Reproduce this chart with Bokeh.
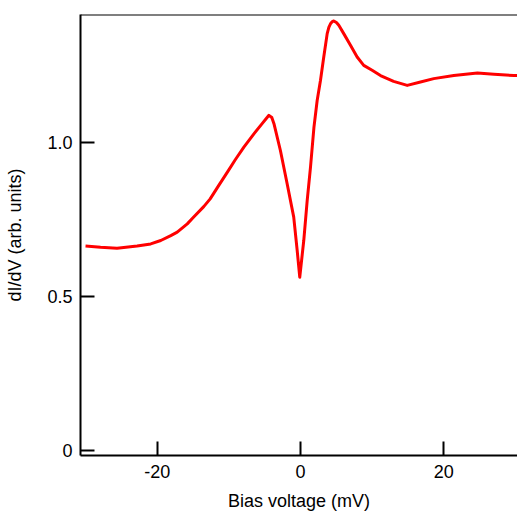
from bokeh.plotting import figure
from bokeh.models import Range1d, FixedTicker, CustomJSTickFormatter, Span
from bokeh.embed import file_html
from bokeh.resources import INLINE

# Data (bias in mV, dI/dV in arb. units)
bias = [-30.0, -27.9, -25.6, -22.8, -20.9, -19.5, -18.1, -17.2, -15.8, -14.9,
        -13.5, -12.6, -11.4, -10.2, -9.1, -7.9, -6.5, -5.35, -4.8, -4.4, -4.0, -3.7,
        -2.8, -1.86, -0.94, -0.46, -0.1, 0.46, 0.94, 1.40, 1.88, 2.33,
        2.79, 3.25, 3.73, 3.96, 4.19, 4.45, 4.65, 5.02, 5.35, 6.04, 6.98, 7.91, 8.83,
        10.0, 11.17, 13.0, 14.9, 16.75, 18.6, 21.4, 24.7, 27.0, 29.8, 30.3]
didv = [0.663, 0.659, 0.656, 0.663, 0.670, 0.681, 0.697, 0.708, 0.735, 0.757,
        0.791, 0.816, 0.860, 0.903, 0.943, 0.984, 1.027, 1.060, 1.076, 1.087, 1.080, 1.060,
        0.973, 0.865, 0.757, 0.649, 0.562, 0.681, 0.811, 0.919, 1.048, 1.135,
        1.200, 1.276, 1.352, 1.372, 1.384, 1.391, 1.393, 1.388, 1.379, 1.352, 1.314, 1.276, 1.249,
        1.233, 1.216, 1.197, 1.184, 1.195, 1.206, 1.216, 1.224, 1.220, 1.216, 1.216]

x_ticks = [-20, 0, 20]
y_ticks = [0, 0.5, 1.0]

X0, X1 = -30.70, 30.29
Y0, Y1 = -0.0162, 1.414

FONT = "Liberation Sans"

p = figure(width=517, height=516, output_backend="svg", toolbar_location=None,
           x_range=Range1d(X0, X1), y_range=Range1d(Y0, Y1),
           min_border_left=80, min_border_right=0, min_border_top=14, min_border_bottom=61)
p.outline_line_color = None
p.grid.visible = False
p.background_fill_color = "white"
p.border_fill_color = "white"

p.line(bias, didv, line_color="#ff0000", line_width=3, line_join="round")

for ax in (p.xaxis[0], p.yaxis[0]):
    ax.axis_line_width = 2
    ax.axis_line_color = "black"
    ax.major_tick_line_width = 2
    ax.major_tick_line_color = "black"
    ax.major_tick_in = 14
    ax.major_tick_out = 0
    ax.minor_tick_line_color = None
    ax.major_label_text_font = FONT
    ax.major_label_text_font_size = "18px"
    ax.major_label_text_color = "black"
    ax.axis_label_text_font = FONT
    ax.axis_label_text_font_size = "18px"
    ax.axis_label_text_font_style = "normal"
    ax.axis_label_text_color = "black"

p.xaxis.ticker = FixedTicker(ticks=x_ticks)
p.yaxis.ticker = FixedTicker(ticks=y_ticks)
p.xaxis.formatter = CustomJSTickFormatter(code="return tick.toFixed(0);")
p.yaxis.formatter = CustomJSTickFormatter(code="return tick == 0 ? '0' : tick.toFixed(1);")
p.xaxis.major_label_standoff = 9
p.yaxis.major_label_standoff = 8

p.xaxis.axis_label = "Bias voltage (mV)"
p.xaxis.axis_label_standoff = 10
p.yaxis.axis_label = "dI/dV (arb. units)"
p.yaxis.axis_label_standoff = 19

# top spine
p.add_layout(Span(location=Y1, dimension="width", line_color="black", line_width=2))

open("out.html", "w").write(file_html(p, INLINE))
